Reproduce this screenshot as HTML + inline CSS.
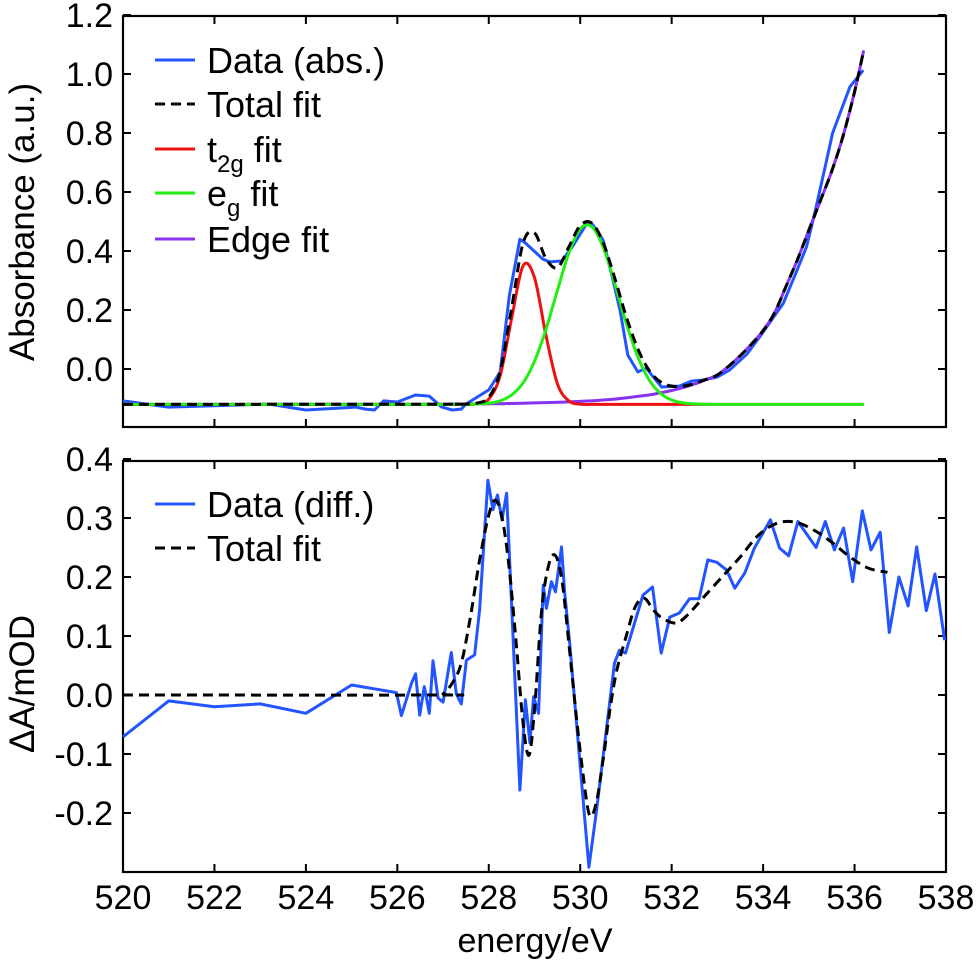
<!DOCTYPE html>
<html><head><meta charset="utf-8"><style>
html,body{margin:0;padding:0;background:#fff}
svg text{font-family:"Liberation Sans",Arial,sans-serif;fill:#000}
</style></head><body>
<svg id="chart" width="978" height="966" viewBox="0 0 978 966" xmlns="http://www.w3.org/2000/svg">
<g id="top"></g>
<g id="bot"></g>
</svg>
<script>
// ---- top panel data ----
const absDataE = [520,521,523.2,524,525.1,525.3,525.5,525.7,526,526.4,526.7,526.97,527.2,527.4,527.5,528.0,528.25,528.45,528.68,528.8,529.18,529.33,529.6,529.85,530.15,530.27,530.5,530.72,530.87,531.04,531.26,531.45,531.58,531.78,532.17,532.43,532.7,533.0,533.27,533.64,533.93,534.2,534.44,534.73,534.95,535.13,535.39,535.52,535.9,536.19];
const absDataV = [-0.108,-0.129,-0.119,-0.139,-0.129,-0.136,-0.139,-0.108,-0.112,-0.088,-0.092,-0.129,-0.139,-0.136,-0.119,-0.071,-0.01,0.25,0.44,0.427,0.373,0.363,0.366,0.42,0.495,0.49,0.437,0.30,0.20,0.047,-0.01,0.003,-0.024,-0.061,-0.058,-0.041,-0.037,-0.027,-0.003,0.05,0.11,0.17,0.222,0.33,0.414,0.529,0.709,0.80,0.957,1.013];
const fitE = [520,527,527.25,527.5,527.75,528,528.25,528.5,528.75,529,529.25,529.5,529.75,530,530.25,530.5,530.75,531,531.25,531.5,531.75,532,532.25,532.5,532.75,533,533.25,533.5,533.75,534,534.25,534.5,534.75,535,535.25,535.5,535.75,536,536.2];
const fitBaseline = -0.12;
const t2gFit = [0,0,0,0.0001,0.002,0.018,0.098,0.291,0.47,0.43,0.235,0.07,0.012,0.001,0,0,0,0,0,0,0,0,0,0,0,0,0,0,0,0,0,0,0,0,0,0,0,0,0];
const egFit = [0,0,0.0001,0.0003,0.0012,0.004,0.012,0.032,0.073,0.146,0.254,0.386,0.513,0.595,0.603,0.534,0.413,0.279,0.165,0.085,0.038,0.015,0.005,0.0016,0.0005,0,0,0,0,0,0,0,0,0,0,0,0,0,0];
const edgeFit = [0,0.0008,0.001,0.001,0.0015,0.002,0.0025,0.003,0.004,0.005,0.006,0.007,0.0085,0.010,0.012,0.015,0.018,0.022,0.027,0.032,0.039,0.047,0.057,0.069,0.084,0.10,0.13,0.165,0.205,0.25,0.31,0.40,0.49,0.59,0.69,0.79,0.91,1.06,1.2];
const topYTicks = [0,0.2,0.4,0.6,0.8,1.0,1.2];
const topYLabels = ["0.0","0.2","0.4","0.6","0.8","1.0","1.2"];
// ---- bottom panel data ----
const diffE = [520,521,522,523,524,525,525.98,526.09,526.31,526.4,526.49,526.59,526.7,526.78,526.89,527.0,527.18,527.29,527.4,527.51,527.69,527.8,527.98,528.09,528.19,528.29,528.39,528.68,528.8,528.9,528.98,529.09,529.19,529.26,529.37,529.46,529.59,529.66,529.77,530.19,530.35,530.75,530.86,530.99,531.37,531.58,531.77,531.96,532.17,532.39,532.6,532.79,532.99,533.2,533.38,533.6,533.81,534.16,534.36,534.56,534.76,535.16,535.36,535.56,535.76,535.96,536.17,536.36,536.56,536.76,536.97,537.17,537.36,537.57,537.76,537.97];
const diffV = [-0.071,-0.01,-0.02,-0.015,-0.031,0.017,0.004,-0.035,0.02,0.036,-0.034,0.014,-0.031,0.058,-0.005,-0.012,0.072,0.002,-0.015,0.059,0.068,0.144,0.364,0.314,0.339,0.297,0.342,-0.161,-0.008,-0.081,-0.003,-0.031,0.186,0.147,0.192,0.175,0.251,0.173,0.088,-0.292,-0.2,0.054,0.076,0.071,0.169,0.183,0.071,0.132,0.139,0.163,0.163,0.229,0.225,0.212,0.181,0.207,0.249,0.297,0.249,0.236,0.294,0.25,0.294,0.246,0.283,0.192,0.312,0.246,0.276,0.106,0.2,0.151,0.251,0.143,0.205,0.093];
const diffFitE = [520,526.9,527.0,527.2,527.4,527.6,527.8,528.0,528.15,528.3,528.45,528.6,528.75,528.88,529.0,529.15,529.3,529.45,529.6,529.75,529.9,530.05,530.2,530.35,530.5,530.65,530.8,531.0,531.2,531.4,531.6,531.8,532.1,532.35,532.7,533.1,533.5,533.9,534.3,534.7,535.1,535.5,535.9,536.3,536.72];
const diffFitV = [0,0,0.002,0.02,0.054,0.133,0.229,0.305,0.33,0.297,0.212,0.088,-0.048,-0.102,-0.025,0.139,0.217,0.237,0.195,0.088,-0.025,-0.127,-0.203,-0.183,-0.11,-0.025,0.042,0.098,0.149,0.164,0.144,0.13,0.122,0.136,0.166,0.2,0.234,0.271,0.291,0.293,0.28,0.259,0.234,0.215,0.208];
const botYTicks = [-0.2,-0.1,0,0.1,0.2,0.3,0.4];
const botYLabels = ["-0.2","-0.1","0.0","0.1","0.2","0.3","0.4"];
const xTicks = [520,522,524,526,528,530,532,534,536,538];
const xLabels = ["520","522","524","526","528","530","532","534","536","538"];

const NS = "http://www.w3.org/2000/svg";
const L = 123, R = 946;
const xs = e => L + (e - 520) * (R - L) / 18;
const yTop = v => 369 - v * 295;
const yBot = v => 695 - v * 590;
function mk(parent, tag, attrs, txt) {
  const el = document.createElementNS(NS, tag);
  for (const k in attrs) el.setAttribute(k, attrs[k]);
  if (txt !== undefined) el.textContent = txt;
  parent.appendChild(el);
  return el;
}
function polyPath(E, V, ys) {
  return E.map((e, i) => (i ? "L" : "M") + xs(e).toFixed(1) + "," + ys(V[i]).toFixed(1)).join(" ");
}
function smoothPath(E, V, ys) {
  const P = E.map((e, i) => [xs(e), ys(V[i])]);
  let d = "M" + P[0][0].toFixed(1) + "," + P[0][1].toFixed(1);
  for (let i = 0; i < P.length - 1; i++) {
    const p0 = P[Math.max(0, i - 1)], p1 = P[i], p2 = P[i + 1], p3 = P[Math.min(P.length - 1, i + 2)];
    const c1 = [p1[0] + (p2[0] - p0[0]) / 6, p1[1] + (p2[1] - p0[1]) / 6];
    const c2 = [p2[0] - (p3[0] - p1[0]) / 6, p2[1] - (p3[1] - p1[1]) / 6];
    d += " C" + c1[0].toFixed(1) + "," + c1[1].toFixed(1) + " " + c2[0].toFixed(1) + "," + c2[1].toFixed(1) + " " + p2[0].toFixed(1) + "," + p2[1].toFixed(1);
  }
  return d;
}
function axes(g, top, bot, ys, yT, yL, showX) {
  let el = mk(g, "rect", {x: L, y: top, width: R - L, height: bot - top, fill: "none", stroke: "#000", "stroke-width": 2.2});
  
  
  xTicks.forEach((t, i) => {
    const x = xs(t);
    el = mk(g, "path", {d: `M${x},${bot} v-8 M${x},${top} v8`, stroke: "#000", "stroke-width": 2});
    
    
    if (showX) {
      el = mk(g, "text", {x: x, y: 909, "font-size": 34, "text-anchor": "middle"}, xLabels[i]);
      
      
    }
  });
  yT.forEach((t, i) => {
    const y = ys(t);
    el = mk(g, "path", {d: `M${L},${y} h8 M${R},${y} h-8`, stroke: "#000", "stroke-width": 2});
    
    
    el = mk(g, "text", {x: 113, y: y + 12, "font-size": 34, "text-anchor": "end"}, yL[i]);
    
    
  });
}
function line(g, d, color, w, name, dash) {
  const a = {d: d, fill: "none", stroke: color, "stroke-width": w, "stroke-linejoin": "round"};
  if (dash) a["stroke-dasharray"] = dash;
  const el = mk(g, "path", a);
  
  
  return el;
}
function legend(g, y, color, label, dash, sub, name) {
  line(g, `M155,${y} H195`, color, 3, name + "-swatch", dash);
  const t = mk(g, "text", {x: 207, y: y + 13, "font-size": 36});
  
  
  if (sub) {
    mk(t, "tspan", {}, label);
    mk(t, "tspan", {dy: 10, "font-size": 24}, sub);
    mk(t, "tspan", {dy: -10}, " fit");
  } else t.textContent = label;
}
// top panel
const gt = document.getElementById("top");
axes(gt, 16, 427, yTop, topYTicks, topYLabels, false);
const edgeAbs = fitE.map((e, i) => fitBaseline + edgeFit[i]);
const t2gAbs = fitE.map((e, i) => fitBaseline + t2gFit[i]);
const egAbs = fitE.map((e, i) => fitBaseline + egFit[i]);
const totAbs = fitE.map((e, i) => fitBaseline + t2gFit[i] + egFit[i] + edgeFit[i]);
line(gt, polyPath(absDataE, absDataV, yTop), "#2255ff", 3, "data-abs-line");
line(gt, smoothPath(fitE, edgeAbs, yTop), "#8833ee", 3, "edge-fit-line");
line(gt, smoothPath(fitE, t2gAbs, yTop), "#ee1111", 3, "t2g-fit-line");
line(gt, smoothPath(fitE, egAbs, yTop), "#22ee11", 3, "eg-fit-line");
line(gt, smoothPath(fitE, totAbs, yTop), "#000", 3, "total-fit-line", "10,6");
legend(gt, 60, "#2255ff", "Data (abs.)", null, null, "legend-data-abs");
legend(gt, 104, "#000", "Total fit", "10,6", null, "legend-total-fit");
legend(gt, 149, "#ee1111", "t", null, "2g", "legend-t2g-fit");
legend(gt, 193, "#22ee11", "e", null, "g", "legend-eg-fit");
legend(gt, 239, "#8833ee", "Edge fit", null, null, "legend-edge-fit");
let tt = mk(gt, "text", {x: 0, y: 0, "font-size": 35, "text-anchor": "middle", transform: "translate(34,222) rotate(-90)"}, "Absorbance (a.u.)");


// bottom panel
const gb = document.getElementById("bot");
axes(gb, 461, 872, yBot, botYTicks, botYLabels, true);
line(gb, polyPath(diffE, diffV, yBot), "#2255ff", 3, "data-diff-line");
line(gb, smoothPath(diffFitE, diffFitV, yBot), "#000", 3, "diff-total-fit-line", "10,6");
legend(gb, 504, "#2255ff", "Data (diff.)", null, null, "legend-data-diff");
legend(gb, 548, "#000", "Total fit", "10,6", null, "legend-diff-total-fit");
tt = mk(gb, "text", {x: 0, y: 0, "font-size": 35, "text-anchor": "middle", transform: "translate(34,684) rotate(-90)"}, "ΔA/mOD");


tt = mk(gb, "text", {x: 535, y: 952, "font-size": 34, "text-anchor": "middle"}, "energy/eV");


</script>
</body></html>
